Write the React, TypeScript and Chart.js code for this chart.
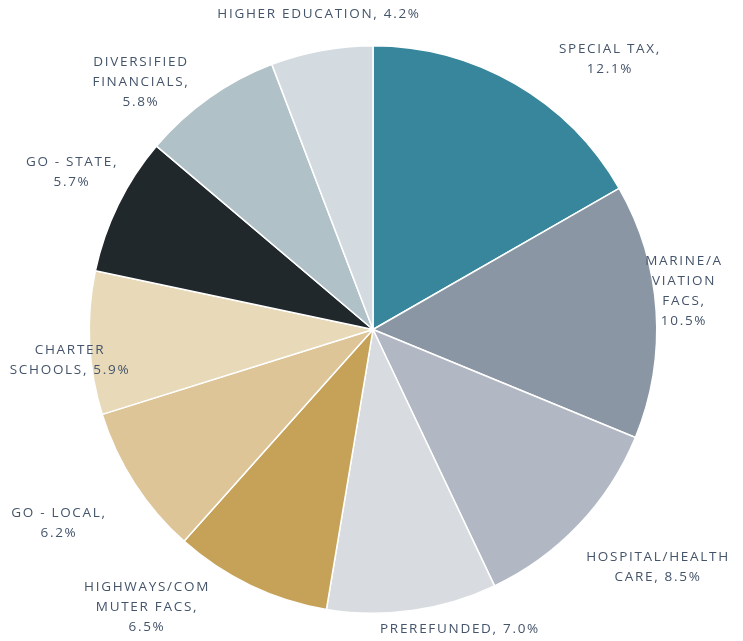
import React, { useEffect, useRef } from "react";
import { Chart, registerables } from "chart.js";

Chart.register(...registerables);

const categories = [
  "SPECIAL TAX",
  "MARINE/AVIATION FACS",
  "HOSPITAL/HEALTH CARE",
  "PREREFUNDED",
  "HIGHWAYS/COMMUTER FACS",
  "GO - LOCAL",
  "CHARTER SCHOOLS",
  "GO - STATE",
  "DIVERSIFIED FINANCIALS",
  "HIGHER EDUCATION",
];

const values = [12.1, 10.5, 8.5, 7.0, 6.5, 6.2, 5.9, 5.7, 5.8, 4.2];

const colors = [
  "#37869B",
  "#8A96A3",
  "#B2B8C3",
  "#D8DCE0",
  "#C5A257",
  "#DDC598",
  "#E8D9B9",
  "#20282C",
  "#B1C1C8",
  "#D3DBE0",
];

// label text as wrapped in the reference
const labelLines = [
  ["SPECIAL TAX,", "12.1%"],
  ["MARINE/A", "VIATION", "FACS,", "10.5%"],
  ["HOSPITAL/HEALTH", "CARE, 8.5%"],
  ["PREREFUNDED, 7.0%"],
  ["HIGHWAYS/COM", "MUTER FACS,", "6.5%"],
  ["GO - LOCAL,", "6.2%"],
  ["CHARTER", "SCHOOLS, 5.9%"],
  ["GO - STATE,", "5.7%"],
  ["DIVERSIFIED", "FINANCIALS,", "5.8%"],
  ["HIGHER EDUCATION, 4.2%"],
];

// label block centre, offset from pie centre (px)
const labelOffsets = [
  [237, -270],
  [311, -38],
  [285, 238],
  [87, 300],
  [-226, 278],
  [-314, 194],
  [-303, 31],
  [-301, -157],
  [-232, -247],
  [-54, -315],
];

const labelPlugin = {
  id: "outsideLabels",
  afterDatasetsDraw(chart: any) {
    const meta = chart.getDatasetMeta(0);
    if (!meta.data.length) return;
    const arc = meta.data[0];
    const cx = arc.x;
    const cy = arc.y;
    const ctx = chart.ctx;
    ctx.save();
    ctx.font = "13.5px 'Open Sans'";
    (ctx as any).letterSpacing = "1.7px";
    ctx.fillStyle = "#44546A";
    ctx.textAlign = "center";
    ctx.textBaseline = "middle";
    const lh = 20;
    labelLines.forEach((lines, i) => {
      const [dx, dy] = labelOffsets[i];
      const x = cx + dx;
      const y0 = cy + dy - ((lines.length - 1) * lh) / 2;
      lines.forEach((t, j) => {
        ctx.fillText(t, x, y0 + j * lh);
      });
    });
    ctx.restore();
  },
};

export default function App() {
  const ref = useRef<HTMLCanvasElement | null>(null);
  useEffect(() => {
    if (!ref.current) return;
    const chart = new Chart(ref.current, {
      type: "pie",
      data: {
        labels: categories,
        datasets: [
          {
            data: values,
            backgroundColor: colors,
            borderColor: "#FFFFFF",
            borderWidth: 1.5,
          },
        ],
      },
      options: {
        animation: false,
        responsive: false,
        maintainAspectRatio: false,
        layout: { padding: { top: 45, bottom: 27, left: 3, right: 0 } },
        plugins: {
          legend: { display: false },
          tooltip: { enabled: false },
        },
      },
      plugins: [labelPlugin],
    });
    return () => chart.destroy();
  }, []);
  return (
    <div style={{ position: "fixed", left: 0, top: 0, width: 743, height: 641, background: "#fff" }}>
      <canvas ref={ref} width={743} height={641} style={{ width: 743, height: 641 }} />
    </div>
  );
}
